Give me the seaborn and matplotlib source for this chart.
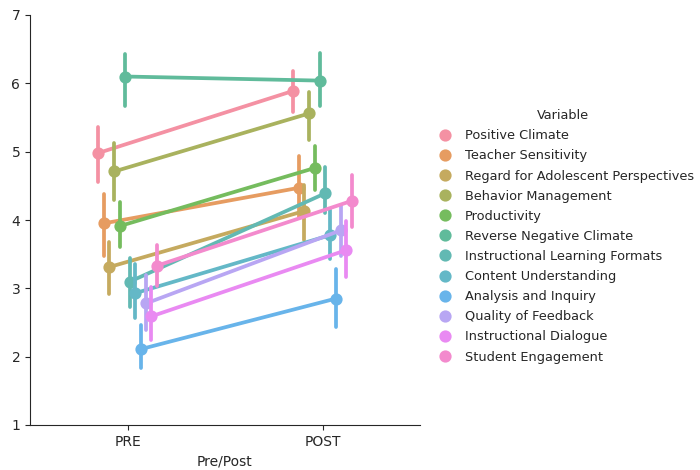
import matplotlib
matplotlib.use("Agg")
import matplotlib.pyplot as plt
import seaborn as sns
import pandas as pd
import numpy as np

variables = ["Positive Climate", "Teacher Sensitivity", "Regard for Adolescent Perspectives",
             "Behavior Management", "Productivity", "Reverse Negative Climate",
             "Instructional Learning Formats", "Content Understanding", "Analysis and Inquiry",
             "Quality of Feedback", "Instructional Dialogue", "Student Engagement"]
phases = ["PRE", "POST"]

pre_mean = [4.98, 3.95, 3.31, 4.71, 3.91, 6.10, 3.10, 2.93, 2.11, 2.78, 2.59, 3.33]
pre_lo   = [4.56, 3.47, 2.92, 4.29, 3.60, 5.67, 2.72, 2.56, 1.83, 2.39, 2.24, 3.03]
pre_hi   = [5.36, 4.38, 3.68, 5.12, 4.26, 6.43, 3.45, 3.35, 2.47, 3.20, 3.02, 3.63]

post_mean = [5.89, 4.47, 4.13, 5.56, 4.76, 6.04, 4.39, 3.78, 2.85, 3.85, 3.56, 4.28]
post_lo   = [5.58, 4.05, 3.71, 5.17, 4.44, 5.67, 4.10, 3.43, 2.43, 3.47, 3.17, 3.90]
post_hi   = [6.18, 4.93, 4.51, 5.87, 5.08, 6.44, 4.77, 4.14, 3.28, 4.22, 3.99, 4.66]

rows = []
for phase, means, los, his in [("PRE", pre_mean, pre_lo, pre_hi), ("POST", post_mean, post_lo, post_hi)]:
    for v, m, lo, hi in zip(variables, means, los, his):
        for val in (lo, hi, 3 * m - lo - hi):
            rows.append({"Pre/Post": phase, "Variable": v, "Score": val})
df = pd.DataFrame(rows)

sns.set_style("ticks")
plt.rcParams["font.family"] = ["DejaVu Sans"]

fig = plt.figure(figsize=(7, 4.7), dpi=100)
ax = fig.add_axes([30 / 700, 45 / 470, 390 / 700, 410 / 470])

base = sns.color_palette("husl", len(variables), desat=0.92)
pal = [tuple(0.8 * np.array(c) + 0.2) for c in base]
sns.pointplot(data=df, x="Pre/Post", y="Score", hue="Variable", order=phases,
              hue_order=variables, palette=pal, dodge=True,
              errorbar=("pi", 100), estimator="mean", ax=ax)

ax.set_ylim(1, 7)
ax.set_xlim(-0.5, 1.5)
ax.set_ylabel("")
ax.set_xlabel("Pre/Post")
sns.despine(ax=ax)

old = ax.get_legend()
handles = list(old.legend_handles)
labels = [t.get_text() for t in old.get_texts()]
old.remove()
for h in handles:
    h.set_linestyle("")
leg = fig.legend(handles, labels, title="Variable", loc="center left",
                 bbox_to_anchor=(420 / 700, 0.497), frameon=False,
                 handletextpad=0.55, labelspacing=0.55, fontsize=9.3,
                 title_fontsize=9.3)

fig.savefig("out.png", dpi=100)
